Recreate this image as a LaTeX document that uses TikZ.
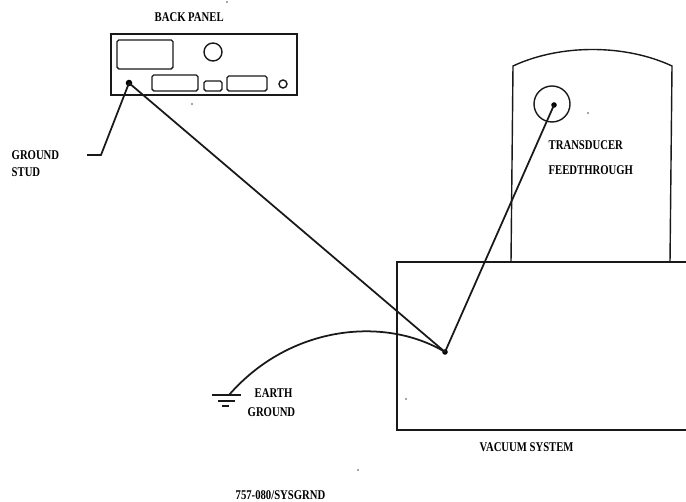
\documentclass[tikz,border=0pt]{standalone}
\usepackage{fontspec}
\setmainfont[FakeStretch=0.8]{Liberation Serif}
\usepackage{tikz}

\tikzset{
    wire/.style={line width=1pt, black!90},
    outline/.style={line width=0.8pt, black!90},
    label/.style={font=\fontsize{7.6}{9}\selectfont\bfseries, inner sep=0pt, anchor=west},
    speck/.style={fill=black!70, draw=none}
}

\begin{document}
\begin{tikzpicture}[x=0.02cm, y=-0.02cm, thick]
    \useasboundingbox (0,0) rectangle (686,502);
    % Back panel
    \draw[outline] (111,34) rectangle (297,95);
    \draw[outline, rounded corners=1pt] (117,40) rectangle (173,69);
    \draw[outline] (213,52) circle (9);
    \draw[outline, rounded corners=1pt] (152,75) rectangle (198,91);
    \draw[outline, rounded corners=1pt] (204,81) rectangle (222,91);
    \draw[outline, rounded corners=1pt] (227,76) rectangle (267,91);
    \draw[outline] (283,84) circle (4);
    \node[label] (panel) at (154,17) {BACK PANEL};
    % Vacuum system, open at the right edge
    \draw[outline] (686,262) -- (397,262) -- (397,430) -- (686,430);
    \node[label] (system) at (479,447) {VACUUM SYSTEM};
    % Feedthrough housing
    \draw[outline] (511,262) -- (513,66) .. controls (560,44) and (625,44) .. (672,66) -- (670,262);
    \draw[outline] (552,104) circle (18);
    \node[label] (transducer) at (548,145) {TRANSDUCER};
    \node[label] (feedthrough) at (548,170) {FEEDTHROUGH};
    % Ground points
    \filldraw (129,83) circle (2.5) coordinate (stud);
    \filldraw (554,105) circle (2) coordinate (probe);
    \filldraw (445,352) circle (2) coordinate (junction);
    \coordinate (elbow) at (101,155);
    \coordinate (tail) at (87,155);
    \coordinate (earth) at (229,395);
    % Wires
    \draw[wire] (stud) -- (junction);
    \draw[wire] (probe) -- (junction);
    \draw[wire] (tail) -- (elbow) -- (stud);
    \draw[wire] (junction) .. controls (385,316) and (290,325) .. (earth);
    % Earth symbol
    \draw[wire] (212,395) -- (241,395);
    \draw[outline] (218,401) -- (235,401);
    \draw[outline] (222,406) -- (229,406);
    % Other labels
    \node[label] (groundstud) at (11,155) {GROUND};
    \node[label] (studlabel) at (11,172) {STUD};
    \node[label] (earthlabel) at (254,393) {EARTH};
    \node[label] (groundlabel) at (247,412) {GROUND};
    \node[label] (drawing) at (235,495) {757-080/SYSGRND};
    % Specks
    \foreach \px/\py in {227/2, 192/104, 358/470, 406/399, 588/113}
        \fill[speck] (\px,\py) circle (0.9);
\end{tikzpicture}
\end{document}
